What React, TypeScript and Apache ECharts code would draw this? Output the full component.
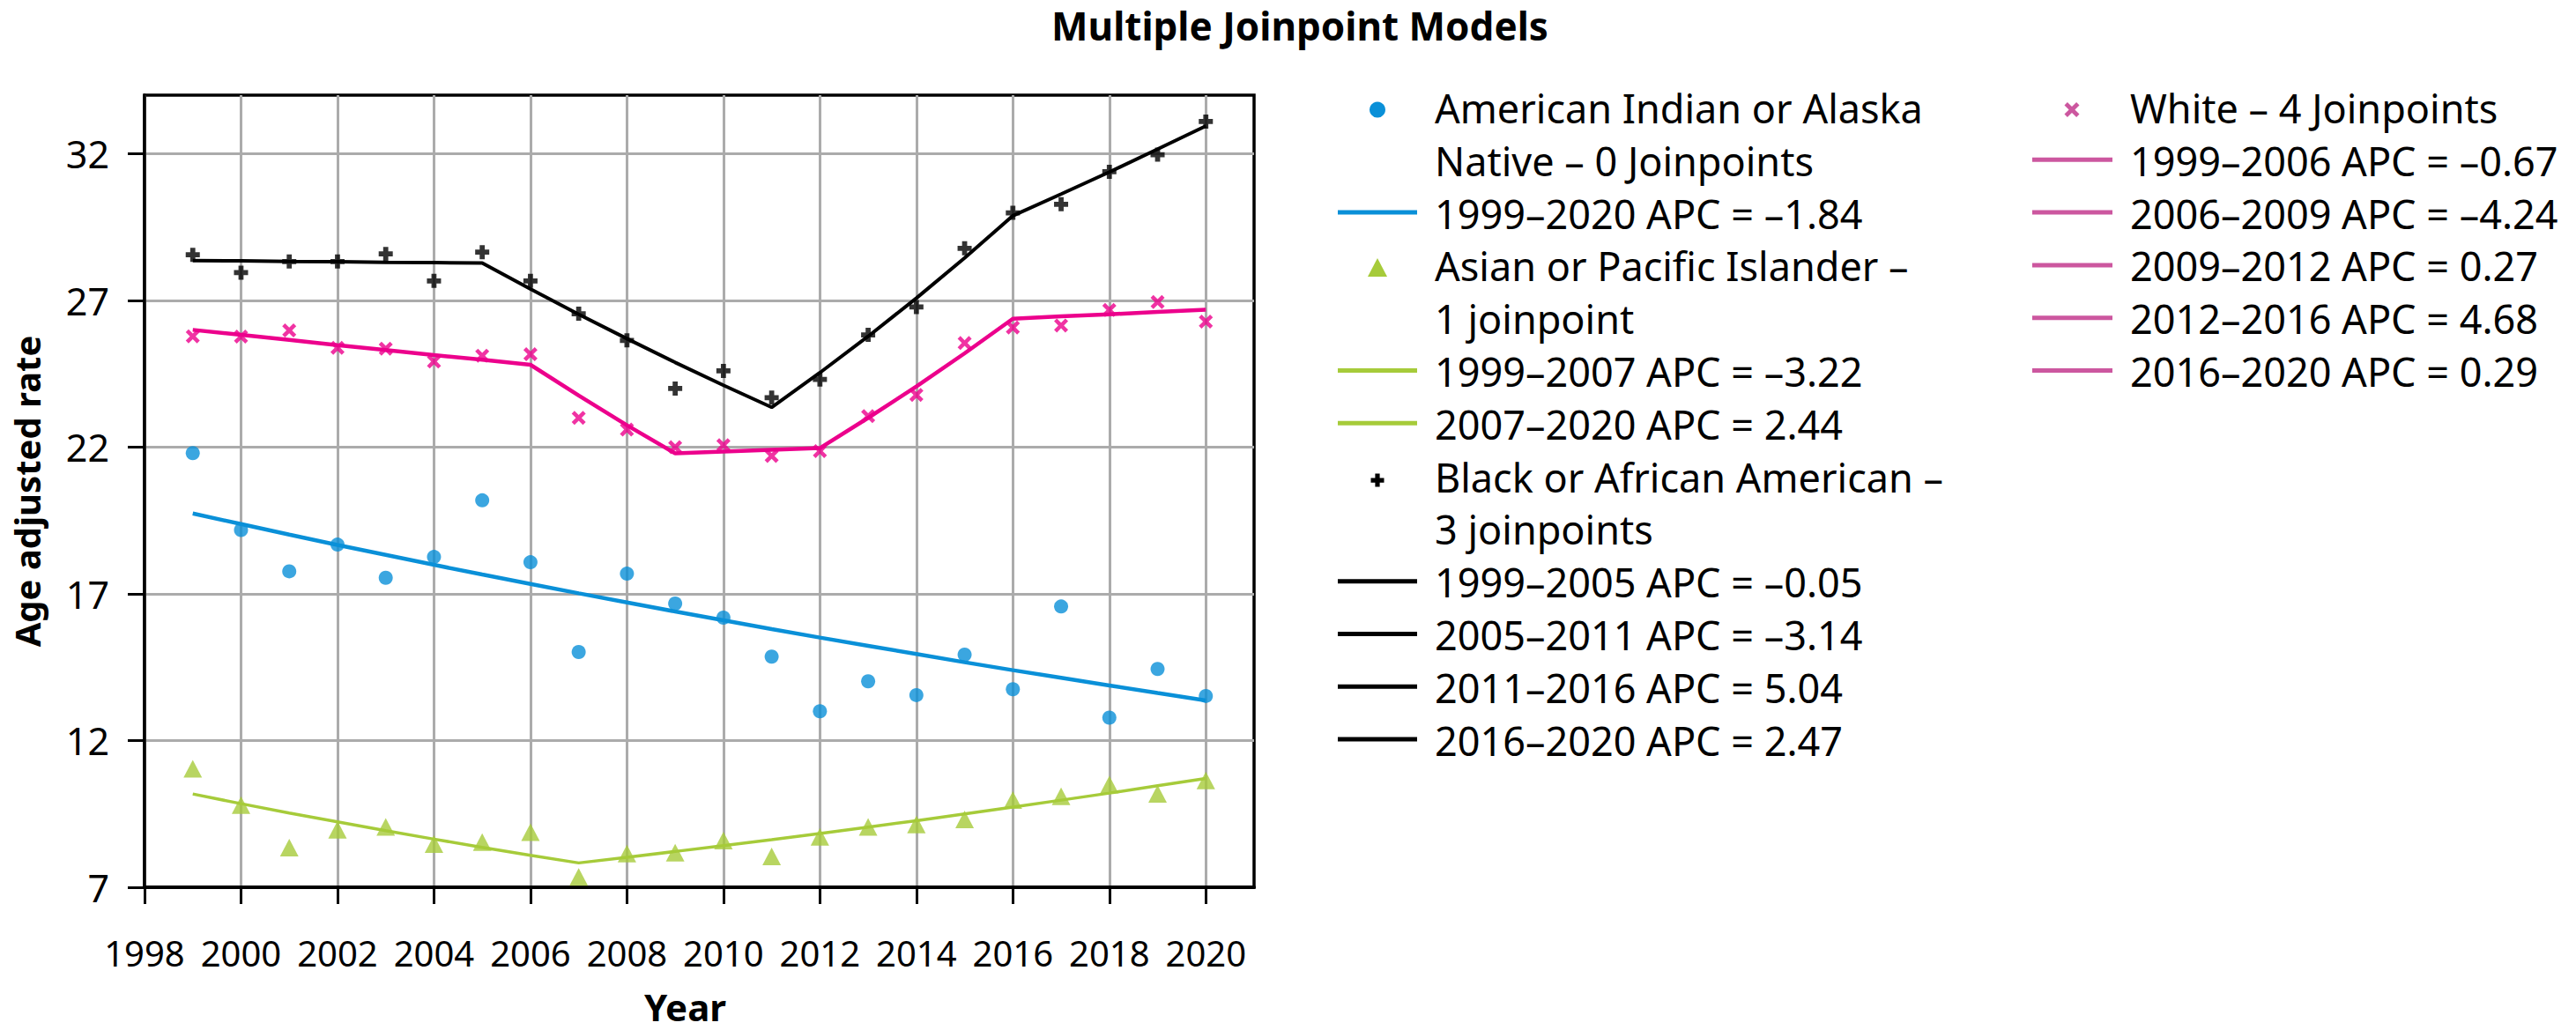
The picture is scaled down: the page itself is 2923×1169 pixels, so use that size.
import React, { useEffect, useRef } from "react";
import * as echarts from "echarts";

const years = [1999, 2000, 2001, 2002, 2003, 2004, 2005, 2006, 2007, 2008, 2009, 2010, 2011, 2012, 2013, 2014, 2015, 2016, 2017, 2018, 2019, 2020];

const aianRates = [21.8, 19.18, 17.77, 18.68, 17.55, 18.26, 20.19, 18.08, 15.02, 17.69, 16.67, 16.19, 14.86, 13.0, 14.02, 13.55, 14.93, 13.75, 16.57, 12.78, 14.44, 13.52];
const aianFit = [19.74, 19.38, 19.02, 18.67, 18.33, 17.99, 17.66, 17.34, 17.02, 16.71, 16.4, 16.1, 15.8, 15.51, 15.23, 14.95, 14.67, 14.4, 14.14, 13.88, 13.62, 13.37];

const apiRates = [11.04, 9.8, 8.35, 8.96, 9.06, 8.47, 8.54, 8.88, 7.35, 8.15, 8.18, 8.59, 8.05, 8.72, 9.06, 9.14, 9.31, 9.97, 10.1, 10.5, 10.18, 10.64];
const apiFit = [10.18, 9.85, 9.53, 9.23, 8.93, 8.64, 8.36, 8.09, 7.83, 8.02, 8.22, 8.42, 8.62, 8.83, 9.05, 9.27, 9.5, 9.73, 9.97, 10.21, 10.46, 10.71];

const blackRates = [28.56, 27.95, 28.33, 28.33, 28.59, 27.67, 28.65, 27.67, 26.55, 25.64, 24.0, 24.6, 23.69, 24.31, 25.83, 26.78, 28.78, 29.99, 30.28, 31.39, 31.97, 33.1];
const blackFit = [28.36, 28.35, 28.33, 28.32, 28.3, 28.29, 28.28, 27.39, 26.53, 25.7, 24.89, 24.11, 23.36, 24.54, 25.78, 27.08, 28.45, 29.89, 30.63, 31.38, 32.16, 32.95];

const whiteRates = [25.78, 25.77, 25.98, 25.39, 25.36, 24.92, 25.12, 25.17, 23.0, 22.6, 22.0, 22.07, 21.7, 21.87, 23.06, 23.78, 25.55, 26.08, 26.15, 26.68, 26.95, 26.28];
const whiteFit = [26.0, 25.83, 25.66, 25.48, 25.31, 25.14, 24.98, 24.81, 23.76, 22.75, 21.79, 21.85, 21.91, 21.97, 23.0, 24.07, 25.2, 26.38, 26.46, 26.53, 26.61, 26.69];

const xTickValues = [1998, 2000, 2002, 2004, 2006, 2008, 2010, 2012, 2014, 2016, 2018, 2020];
const yTickValues = [7, 12, 17, 22, 27, 32];

const titleText = "Multiple Joinpoint Models";
const xAxisTitle = "Year";
const yAxisTitle = "Age adjusted rate";

// legend rows: [kind, text]
const legendCol1: [string, string][] = [
  ["circle", "American Indian or Alaska"],
  ["", "Native – 0 Joinpoints"],
  ["lineBlue", "1999–2020 APC = –1.84"],
  ["triangle", "Asian or Pacific Islander –"],
  ["", "1 joinpoint"],
  ["lineGreen", "1999–2007 APC = –3.22"],
  ["lineGreen", "2007–2020 APC = 2.44"],
  ["plus", "Black or African American –"],
  ["", "3 joinpoints"],
  ["lineBlack", "1999–2005 APC = –0.05"],
  ["lineBlack", "2005–2011 APC = –3.14"],
  ["lineBlack", "2011–2016 APC = 5.04"],
  ["lineBlack", "2016–2020 APC = 2.47"],
];
const legendCol2: [string, string][] = [
  ["cross", "White – 4 Joinpoints"],
  ["linePink", "1999–2006 APC = –0.67"],
  ["linePink", "2006–2009 APC = –4.24"],
  ["linePink", "2009–2012 APC = 0.27"],
  ["linePink", "2012–2016 APC = 4.68"],
  ["linePink", "2016–2020 APC = 0.29"],
];

const BLUE = "#0a90d8";
const GREEN = "#a6cb3a";
const BLACK = "#000000";
const PINK = "#ec008c";
const PINK_LEGEND = "#cc579f";
const FONT = "Noto Sans";

const PLUS_PATH = "path://M3.2,0H6.8V3.2H10V6.8H6.8V10H3.2V6.8H0V3.2H3.2Z";
const CROSS_PATH = "path://M0,2L2,0L5,3L8,0L10,2L7,5L10,8L8,10L5,7L2,10L0,8L3,5Z";

const pairs = (arr: number[]) => years.map((y, i) => [y, arr[i]]);

function legendGraphics() {
  const els: any[] = [];
  const rowY = (i: number) => 122.5 + 59.8 * i;
  const addCol = (rows: [string, string][], symX: number, lineX1: number, lineX2: number, textX: number) => {
    rows.forEach(([kind, text], i) => {
      const cy = rowY(i);
      if (kind === "circle") {
        els.push({ type: "circle", shape: { cx: symX, cy: cy + 2, r: 9 }, style: { fill: BLUE } });
      } else if (kind === "triangle") {
        els.push({
          type: "polygon",
          shape: { points: [[symX, cy - 9], [symX + 11, cy + 12], [symX - 11, cy + 12]] },
          style: { fill: GREEN },
        });
      } else if (kind === "plus") {
        const h = 7.5, t = 2.6, cx = symX, c = cy + 4;
        els.push({
          type: "polygon",
          shape: {
            points: [
              [cx - t, c - h], [cx + t, c - h], [cx + t, c - t], [cx + h, c - t], [cx + h, c + t], [cx + t, c + t],
              [cx + t, c + h], [cx - t, c + h], [cx - t, c + t], [cx - h, c + t], [cx - h, c - t], [cx - t, c - t],
            ],
          },
          style: { fill: BLACK },
        });
      } else if (kind === "cross") {
        const s = 1.7, ox = symX - 8.5, oy = cy + 2 - 8.5;
        const pts = [[0, 2], [2, 0], [5, 3], [8, 0], [10, 2], [7, 5], [10, 8], [8, 10], [5, 7], [2, 10], [0, 8], [3, 5]];
        els.push({
          type: "polygon",
          shape: { points: pts.map(([a, b]) => [ox + a * s, oy + b * s]) },
          style: { fill: PINK_LEGEND },
        });
      } else if (kind.startsWith("line")) {
        const col = kind === "lineBlue" ? BLUE : kind === "lineGreen" ? GREEN : kind === "lineBlack" ? BLACK : PINK_LEGEND;
        els.push({
          type: "line",
          shape: { x1: lineX1, y1: cy - 1, x2: lineX2, y2: cy - 1 },
          style: { stroke: col, lineWidth: 5 },
        });
      }
      els.push({
        type: "text",
        x: textX,
        y: cy,
        style: {
          text,
          fill: "#000",
          fontSize: 45,
          fontFamily: FONT,
          verticalAlign: "middle",
          align: "left",
        },
      });
    });
  };
  addCol(legendCol1, 1563, 1518, 1608, 1628);
  addCol(legendCol2, 2351, 2306, 2397, 2417);
  return els;
}

export default function App() {
  const ref = useRef<HTMLDivElement>(null);
  useEffect(() => {
    document.body.style.margin = "0";
    document.body.style.overflow = "hidden";
    const chart = echarts.init(ref.current!, null, { renderer: "svg" });
    const option: any = {
      animation: false,
      backgroundColor: "#ffffff",
      textStyle: { fontFamily: FONT },
      title: {
        text: titleText,
        left: 1470,
        top: 2,
        textAlign: "center",
        textStyle: { fontSize: 44, fontWeight: "bold", fontFamily: FONT, color: "#000" },
      },
      grid: {
        left: 164,
        right: 2923 - 1423,
        top: 108,
        bottom: 1169 - 1007,
        show: true,
        borderColor: "#000",
        borderWidth: 3.5,
        backgroundColor: "transparent",
      },
      xAxis: {
        type: "value",
        min: 1998,
        max: 2021,
        interval: 2,
        name: xAxisTitle,
        nameLocation: "middle",
        nameGap: 114,
        nameTextStyle: { fontSize: 42, fontWeight: "bold", fontFamily: FONT, color: "#000", padding: [0, 32, 0, 0] },
        axisLine: { show: true, lineStyle: { color: "#000", width: 4 } },
        axisTick: { show: true, length: 19, lineStyle: { color: "#000", width: 3 }, customValues: xTickValues },
        axisLabel: {
          fontSize: 40,
          fontFamily: FONT,
          color: "#000",
          margin: 54,
          customValues: xTickValues,
          formatter: (v: number) => String(v),
        },
        splitLine: { show: true, lineStyle: { color: "#ababab", width: 3 } },
      },
      yAxis: {
        type: "value",
        min: 7,
        max: 34,
        interval: 5,
        name: yAxisTitle,
        nameLocation: "middle",
        nameGap: 114,
        nameTextStyle: { fontSize: 40, fontWeight: "bold", fontFamily: FONT, color: "#000" },
        axisLine: { show: true, lineStyle: { color: "#000", width: 3.5 } },
        axisTick: { show: true, length: 19, lineStyle: { color: "#000", width: 3 }, customValues: yTickValues },
        axisLabel: { fontSize: 43, fontFamily: FONT, color: "#000", margin: 40, customValues: yTickValues },
        splitLine: { show: true, lineStyle: { color: "#ababab", width: 3 } },
      },
      series: [
        { name: "AIAN fit", type: "line", data: pairs(aianFit), showSymbol: false, symbol: "none", lineStyle: { color: BLUE, width: 4.5 }, z: 2 },
        { name: "API fit", type: "line", data: pairs(apiFit), showSymbol: false, symbol: "none", lineStyle: { color: GREEN, width: 3.5 }, z: 2 },
        { name: "Black fit", type: "line", data: pairs(blackFit), showSymbol: false, symbol: "none", lineStyle: { color: BLACK, width: 4 }, z: 2 },
        { name: "White fit", type: "line", data: pairs(whiteFit), showSymbol: false, symbol: "none", lineStyle: { color: PINK, width: 4.5 }, z: 2 },
        { name: "American Indian or Alaska Native", type: "scatter", data: pairs(aianRates), symbol: "circle", symbolSize: [16, 16], itemStyle: { color: BLUE }, z: 3 },
        { name: "Asian or Pacific Islander", type: "scatter", data: pairs(apiRates), symbol: "triangle", symbolSize: [21, 20], itemStyle: { color: GREEN }, z: 3 },
        { name: "Black or African American", type: "scatter", data: pairs(blackRates), symbol: PLUS_PATH, symbolSize: 16, itemStyle: { color: BLACK }, z: 3 },
        { name: "White", type: "scatter", data: pairs(whiteRates), symbol: CROSS_PATH, symbolSize: 16, itemStyle: { color: PINK }, z: 3 },
      ],
      graphic: legendGraphics(),
    };
    chart.setOption(option);
    return () => chart.dispose();
  }, []);
  return <div ref={ref} style={{ width: 2923, height: 1169 }} />;
}
